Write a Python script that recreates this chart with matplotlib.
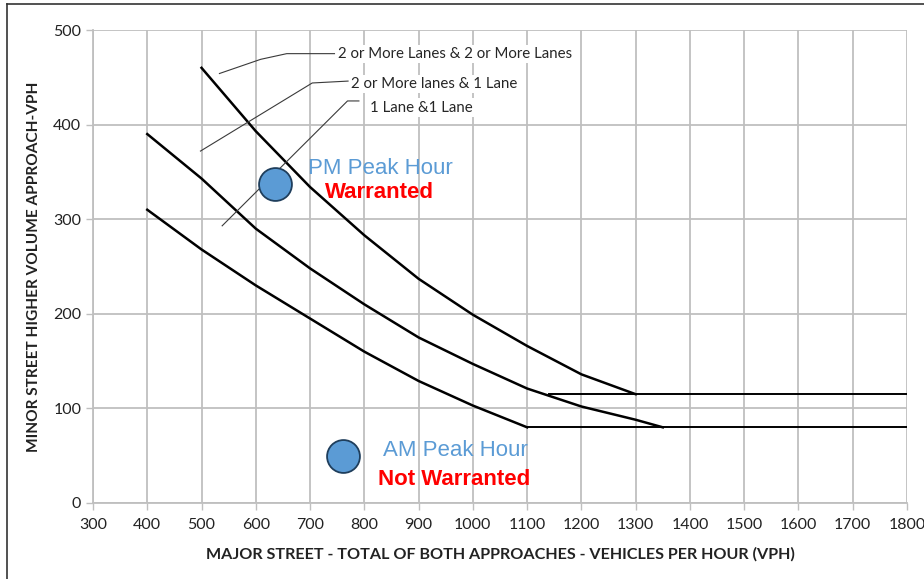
import matplotlib.pyplot as plt
from matplotlib.lines import Line2D

# curve readings (major street vph, minor street vph)
x_22 = [500, 600, 700, 800, 900, 1000, 1100, 1200, 1300]
y_22 = [460, 393, 334, 283, 237, 199, 166, 136, 115]

x_21 = [400, 500, 600, 700, 800, 900, 1000, 1100, 1200, 1300, 1350]
y_21 = [390, 343, 290, 248, 210, 175, 147, 121, 102, 88, 80]

x_11 = [400, 500, 600, 700, 800, 900, 1000, 1100]
y_11 = [310, 268, 230, 195, 160, 129, 103, 80]

# lower threshold lines
flat_hi_x = [1140, 1800]
flat_hi_y = [115, 115]
flat_lo_x = [1100, 1800]
flat_lo_y = [80, 80]

# observed peak hours
pm_point = (635, 337)
am_point = (760, 50)

# leader lines for curve labels
leader_labels = ['2 or More Lanes & 2 or More Lanes', '2 or More lanes & 1 Lane', '1 Lane &1 Lane']
leader_x = [[533, 609, 657, 745], [498, 704, 770], [538, 769, 790]]
leader_y = [[454, 469, 475, 475], [372, 444, 446], [293, 425, 425]]
label_pos = [(751, 475), (775, 443), (810, 418)]

x_ticks = list(range(300, 1801, 100))
y_ticks = list(range(0, 501, 100))

plt.rcParams['font.family'] = ['Lato', 'DejaVu Sans']

fig = plt.figure(figsize=(9.24, 5.79), dpi=100)
ax = fig.add_axes([93 / 924, 1 - 503 / 579, (907 - 93) / 924, (503 - 30) / 579])

ax.set_xlim(300, 1800)
ax.set_ylim(0, 500)
ax.set_xticks(x_ticks)
ax.set_yticks(y_ticks)
ax.grid(True, color='#bfbfbf', lw=1.3)
ax.set_axisbelow(True)
for s in ['top', 'right']:
    ax.spines[s].set_visible(False)
for s in ['left', 'bottom']:
    ax.spines[s].set_color('#bfbfbf')
    ax.spines[s].set_linewidth(1.3)
ax.tick_params(colors='#bfbfbf', labelcolor='#222222', labelsize=11.5, length=5, width=1)
ax.tick_params(axis='x', pad=6)

# curves
for xs, ys in [(x_22, y_22), (x_21, y_21), (x_11, y_11)]:
    ax.plot(xs, ys, color='black', lw=1.8, solid_joinstyle='round', zorder=3)
ax.plot(flat_hi_x, flat_hi_y, color='black', lw=1.4, zorder=3)
ax.plot(flat_lo_x, flat_lo_y, color='black', lw=1.4, zorder=3)

# leaders and labels
for lab, lx, ly, pos in zip(leader_labels, leader_x, leader_y, label_pos):
    ax.plot(lx, ly, color='#3a3a3a', lw=0.8, zorder=3)
    ax.text(pos[0], pos[1], lab, fontsize=10.8, color='#262626', va='center', ha='left',
            bbox=dict(facecolor='white', edgecolor='none', pad=1.5), zorder=4)

# points
for p in [pm_point, am_point]:
    ax.scatter([p[0]], [p[1]], s=560, color='#5b9bd5', edgecolor='#1f3e5c', lw=1.3, zorder=5)

ax.text(830, 354, 'PM Peak Hour', fontsize=16, color='#5b9bd5', ha='center', va='center',
        family=['Liberation Sans', 'DejaVu Sans'], zorder=5)
ax.text(828, 328, 'Warranted', fontsize=16, color='red', ha='center', va='center', weight='bold',
        family=['Liberation Sans Narrow', 'Liberation Sans', 'DejaVu Sans'], zorder=5)
ax.text(968, 56, 'AM Peak Hour', fontsize=16, color='#5b9bd5', ha='center', va='center',
        family=['Liberation Sans', 'DejaVu Sans'], zorder=5)
ax.text(965, 25, 'Not Warranted', fontsize=16, color='red', ha='center', va='center', weight='bold',
        family=['Liberation Sans Narrow', 'Liberation Sans', 'DejaVu Sans'], zorder=5)

ax.set_xlabel('MAJOR STREET - TOTAL OF BOTH APPROACHES - VEHICLES PER HOUR (VPH)',
              fontsize=11.6, weight='bold', color='#222222', labelpad=11)
ax.set_ylabel('MINOR STREET HIGHER VOLUME APPROACH-VPH',
              fontsize=11.1, weight='bold', color='#222222', labelpad=9)

# screenshot frame on left and top
fig.add_artist(Line2D([7 / 924, 7 / 924], [0, 1 - 4 / 579], color='#333333', lw=1.2))
fig.add_artist(Line2D([7 / 924, 1], [1 - 4 / 579, 1 - 4 / 579], color='#333333', lw=1.2))

fig.savefig('out.png', dpi=100)
